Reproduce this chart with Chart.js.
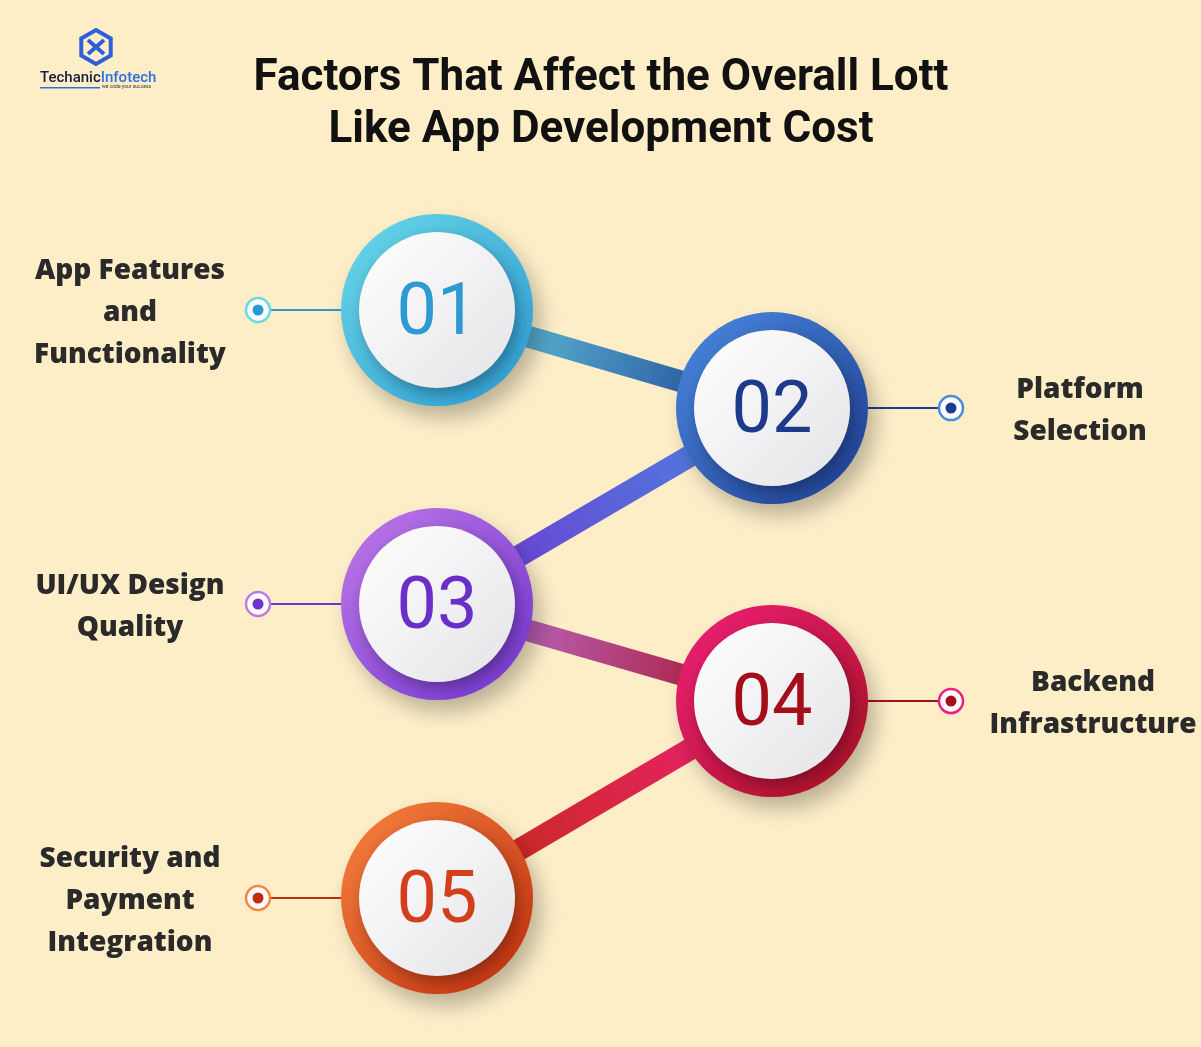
<!DOCTYPE html>
<html><head><meta charset="utf-8">
<script src="https://cdn.jsdelivr.net/npm/chart.js@4"></script>
<style>html,body{margin:0;padding:0;background:#fdeec8;overflow:hidden}#c{display:block}</style>
</head><body>
<div style="width:1201px;height:1047px"><canvas id="c"></canvas></div>
<script>
const numbers = ["01","02","03","04","05"];
const labels = [["App Features","and","Functionality"],["Platform","Selection"],["UI/UX Design","Quality"],["Backend","Infrastructure"],["Security and","Payment","Integration"]];
const column = [0,1,0,1,0];
const step = [1,1.667,3,3.66,5];
const ringLight = ["#6ad8e6","#4a8ae0","#c07ae8","#f0207a","#f88440"];
const ringDark = ["#2b9ad4","#1d3b8f","#7033d0","#a5101f","#bf2c0c"];
const numColor = ["#2d9bd1","#1e3a8a","#6a2fc9","#a30e1a","#d23f1c"];
const titleLines = ["Factors That Affect the Overall Lott","Like App Development Cost"];

const pts = step.map((s,i)=>({x:column[i], y:s}));

const deco = {
  id:'deco',
  beforeDraw(chart){
    const c=chart.ctx; c.save();
    c.fillStyle='#fdeec8'; c.fillRect(0,0,chart.width,chart.height);
    c.fillStyle='#111'; c.textAlign='center'; c.textBaseline='middle';
    c.font='700 44px Roboto';
    c.fillText(titleLines[0],601,79); c.fillText(titleLines[1],601,131);
    c.strokeStyle='#2f5fd8'; c.lineWidth=4;
    c.beginPath();
    for(let k=0;k<6;k++){const a=Math.PI/6+k*Math.PI/3; const px=96+17*Math.cos(a), py=47+17*Math.sin(a); k?c.lineTo(px,py):c.moveTo(px,py);}
    c.closePath(); c.stroke();
    c.beginPath(); c.moveTo(88,40); c.lineTo(104,54); c.moveTo(104,40); c.lineTo(88,54); c.stroke();
    c.font='500 15px Roboto'; c.textAlign='left';
    c.fillStyle='#1b1b3a'; c.fillText('Techanic',40,78);
    const w=c.measureText('Techanic').width;
    c.fillStyle='#2f6ee0'; c.fillText('Infotech',40+w,78);
    c.fillStyle='#2f6ee0'; c.fillRect(40,87,60,1.5);
    c.font='5px Roboto'; c.fillStyle='#333'; c.fillText('we code your success',102,87);
    c.restore();
  },
  afterDatasetsDraw(chart){
    const c=chart.ctx; const meta=chart.getDatasetMeta(0);
    meta.data.forEach((el,i)=>{
      const x=el.x,y=el.y, R=96, r=78;
      const left=column[i]===0;
      const dotX = left? x-179 : x+179;
      c.save();
      c.strokeStyle=ringDark[i]; c.lineWidth=2;
      c.beginPath(); c.moveTo(dotX,y); c.lineTo(left?x-R:x+R,y); c.stroke();
      c.beginPath(); c.arc(dotX,y,12,0,Math.PI*2); c.fillStyle='#fff'; c.fill();
      c.strokeStyle=ringLight[i]; c.lineWidth=2.5; c.stroke();
      c.beginPath(); c.arc(dotX,y,5.5,0,Math.PI*2); c.fillStyle=ringDark[i]; c.fill();
      c.shadowColor='rgba(0,0,0,0.25)'; c.shadowBlur=20; c.shadowOffsetX=8; c.shadowOffsetY=12;
      const g=c.createLinearGradient(x-R,y-R,x+R,y+R);
      g.addColorStop(0,ringLight[i]); g.addColorStop(1,ringDark[i]);
      c.beginPath(); c.arc(x,y,R,0,Math.PI*2); c.fillStyle=g; c.fill();
      c.shadowColor='rgba(0,0,0,0.3)'; c.shadowBlur=14; c.shadowOffsetX=4; c.shadowOffsetY=6;
      const wg=c.createLinearGradient(x-r,y-r,x+r,y+r);
      wg.addColorStop(0,'#ffffff'); wg.addColorStop(1,'#e4e4e8');
      c.beginPath(); c.arc(x,y,r,0,Math.PI*2); c.fillStyle=wg; c.fill();
      c.shadowColor='transparent';
      c.fillStyle=numColor[i]; c.font='400 72px Roboto'; c.textAlign='center'; c.textBaseline='middle';
      c.fillText(numbers[i],x,y+6);
      c.fillStyle='#2a2a2a'; c.font='800 28px "Open Sans"';
      const lx = left? 130 : (labels[i][1].length>10?1093:1080);
      const n=labels[i].length;
      labels[i].forEach((t,k)=>c.fillText(t,lx,y+3+(k-(n-1)/2)*42));
      c.restore();
    });
  }
};

new Chart(document.getElementById('c'),{
  type:'line',
  data:{datasets:[{data:pts,borderWidth:22,pointRadius:0,tension:0,
    segment:{borderColor:ctx=>{
      const g=ctx.chart.ctx.createLinearGradient(ctx.p0.x,ctx.p0.y,ctx.p1.x,ctx.p1.y);
      const i=ctx.p0DataIndex;
      g.addColorStop(0,ringLight[i]); g.addColorStop(1,ringDark[i+1]); return g;}}}]},
  options:{responsive:true,maintainAspectRatio:false,animation:false,
    layout:{padding:0},
    plugins:{legend:{display:false},tooltip:{enabled:false}},
    scales:{
      x:{type:'linear',display:false,min:-1.3045,max:2.2806},
      y:{type:'linear',display:false,reverse:true,min:-1.1088,max:6.0136}
    }},
  plugins:[deco]
});
</script>
</body></html>
